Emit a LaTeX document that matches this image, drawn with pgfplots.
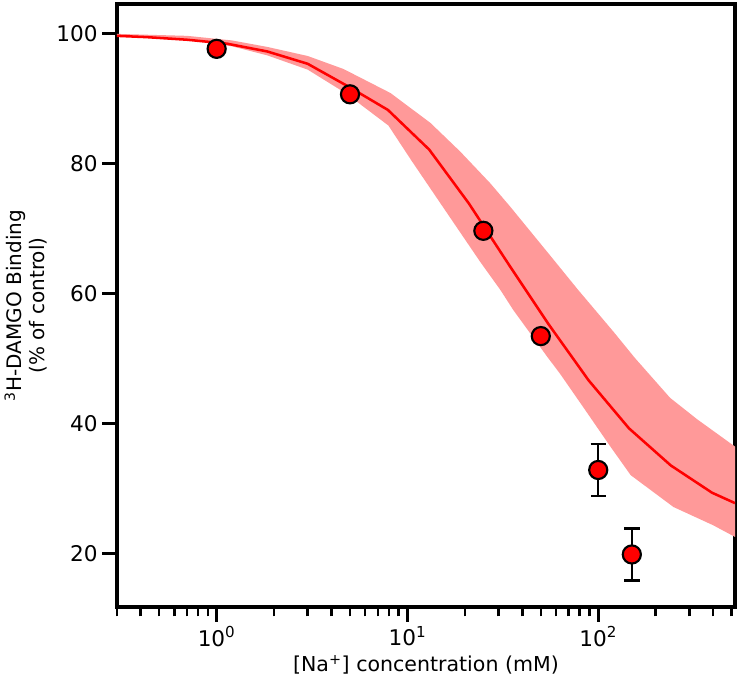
\documentclass[border=0pt]{standalone}
\usepackage{fontspec}
\setmainfont{DejaVu Sans}
\usepackage{pgfplots}
\pgfplotsset{compat=1.18}
\begin{document}
\begin{tikzpicture}
\begin{axis}[
  scale only axis, width=463.5pt, height=452.25pt,
  xmode=log, xmin=0.3, xmax=521, ymin=11.7, ymax=104.5,
  axis line style={line width=2.5pt, black},
  tick align=outside, tick pos=left,
  major tick length=11pt, minor tick length=7pt,
  major tick style={line width=2.4pt, black},
  minor tick style={line width=1.9pt, black},
  xtick={1,10,100},
  xticklabels={10\textsuperscript{0},10\textsuperscript{1},10\textsuperscript{2}},
  minor xtick={0.3,0.4,0.5,0.6,0.7,0.8,0.9,2,3,4,5,6,7,8,9,20,30,40,50,60,70,80,90,200,300,400,500},
  ytick={20,40,60,80,100},
  yticklabels={20,40,60,80,100},
  ticklabel style={font=\fontsize{16.2}{19}\selectfont},
  xlabel style={font=\fontsize{15.4}{17}\selectfont},
  ylabel style={font=\fontsize{15}{17}\selectfont, align=center},
  xlabel={[Na\textsuperscript{+}] concentration (mM)},
  ylabel={\textsuperscript{3}H-DAMGO Binding\\(\% of control)},
  clip=true,
]
% confidence band: upper edge left to right, then lower edge right to left
\addplot[draw=none, fill=red!40, forget plot] coordinates {
  (0.3,99.9) (0.7,99.6) (1.2,98.9) (1.84,97.9) (3.0,96.5) (4.62,94.5) (8.15,90.8)
  (13.2,86.2) (18.9,81.8) (27.2,76.9) (34.6,73.3) (56,65.8) (78,60.6)
  (120,54.1) (156,50.0) (238,43.9) (330,40.6) (521,36.4)
  (521,22.5) (400,24.3) (248,27.1) (148,32.0) (115.8,36.4) (84.2,42.3) (63.1,47.6)
  (54.1,50.2) (35.9,57.4) (30.7,60.5) (24.1,64.8) (15.4,73.2) (10.5,80.4) (7.95,85.8)
  (4.73,90.8) (3.0,94.4) (1.84,96.6) (1.2,98.0) (0.7,99.0) (0.3,99.7)
};
% fitted curve
\addplot[red, line width=1.9pt, mark=none] coordinates {
  (0.3,99.6) (0.43,99.4) (0.70,99.0) (1.13,98.4) (1.84,97.2) (3.0,95.3)
  (4.9,91.8) (7.9,88.2) (13,82.1) (21,73.8) (34,64.4) (55,55.2) (89,46.6)
  (145,39.2) (240,33.5) (395,29.3) (521,27.7)
};
% error bars
\addplot[draw=none, mark=none,
  error bars/.cd, y dir=both, y explicit,
  error bar style={draw=black, line width=1.6pt},
  error mark options={draw=black, rotate=90, mark size=5.8pt, line width=1.6pt}]
  coordinates {(100,32.8) +- (0,4.0) (150,19.8) +- (0,4.0)};
% data points
\addplot[only marks, mark=*, mark size=6.8pt,
  mark options={fill=red, draw=black, line width=1.6pt}]
  coordinates {(1,97.6) (5,90.6) (25,69.6) (50,53.4) (100,32.8) (150,19.8)};
\end{axis}
\path ([shift={(3.75pt,3pt)}]current axis.north east);
\end{tikzpicture}
\end{document}
